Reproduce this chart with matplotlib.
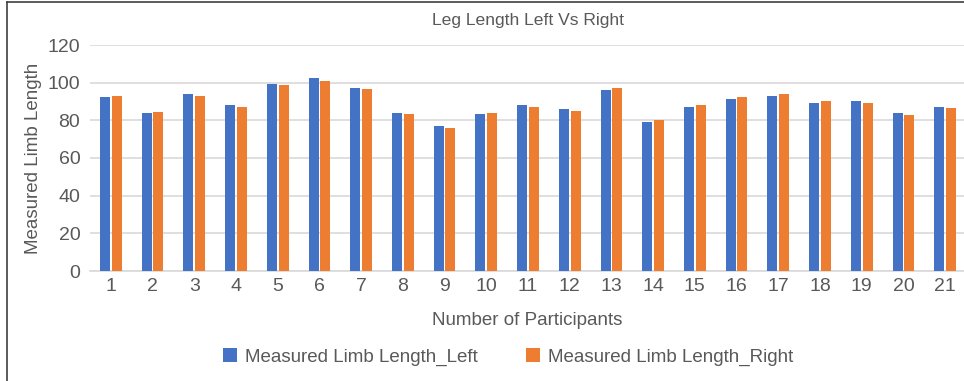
import matplotlib.pyplot as plt
from matplotlib.lines import Line2D
import numpy as np

plt.rcParams["font.family"] = ["Liberation Sans", "DejaVu Sans"]

# data
participants = [str(i) for i in range(1, 22)]
left_leg = [92.4, 83.9, 94.0, 88.1, 99.3, 102.5, 97.2, 83.9, 77.0, 83.4, 88.1,
            86.0, 96.1, 79.1, 87.1, 91.3, 92.9, 89.2, 90.3, 83.9, 87.1]
right_leg = [92.9, 84.4, 92.9, 87.1, 98.8, 100.9, 96.6, 83.4, 75.9, 83.9, 87.1,
             85.0, 97.2, 80.2, 88.1, 92.4, 94.0, 90.3, 89.2, 82.8, 86.5]
y_ticks = [0, 20, 40, 60, 80, 100, 120]

BLUE = "#4472C4"
ORANGE = "#ED7D31"
TEXT = "#595959"
GRID = "#D9D9D9"

W, H = 964, 381
fig = plt.figure(figsize=(W / 100, H / 100), dpi=100)
ax = fig.add_axes([90 / W, 110 / H, 1 - 90 / W, 226 / H])

x = np.arange(1, len(participants) + 1)
bw = 0.24
ax.bar(x - 0.14, left_leg, bw, color=BLUE, label="Measured Limb Length_Left", zorder=3)
ax.bar(x + 0.14, right_leg, bw, color=ORANGE, label="Measured Limb Length_Right", zorder=3)

ax.set_xlim(0.5, 0.5 + 21 * (W - 90) / (966 - 90))
ax.set_ylim(0, 120)
ax.set_yticks(y_ticks)
ax.set_xticks(x)
ax.set_xticklabels(participants)
ax.tick_params(length=0, labelsize=14, colors=TEXT)
ax.tick_params(axis="y", pad=7)
ax.tick_params(axis="x", pad=5)
ax.yaxis.grid(True, color=GRID, linewidth=1.2, zorder=0)
for s in ["top", "right", "left"]:
    ax.spines[s].set_visible(False)
ax.spines["bottom"].set_color(GRID)
ax.spines["bottom"].set_linewidth(1.2)

ax.set_xlabel("Number of Participants", fontsize=13.5, color=TEXT, labelpad=12)
ax.set_ylabel("Measured Limb Length", fontsize=13.5, color=TEXT, labelpad=4)
fig.text(528 / W, 1 - 20 / H, "Leg Length Left Vs Right", ha="center", va="center",
         fontsize=12.6, color=TEXT)

fig.legend(loc="center", bbox_to_anchor=(508 / W, 1 - 357 / H), ncol=2, frameon=False,
           fontsize=13.5, labelcolor=TEXT, handlelength=0.75, handleheight=0.75,
           handletextpad=0.4, columnspacing=2.6)

# chart frame edges visible in the crop
fig.add_artist(Line2D([7 / W, 7 / W], [0, 1 - 2 / H], color="#404040", linewidth=1.2))
fig.add_artist(Line2D([7 / W, 1], [1 - 2 / H, 1 - 2 / H], color="#404040", linewidth=1.2))

fig.savefig("out.png", dpi=100)
